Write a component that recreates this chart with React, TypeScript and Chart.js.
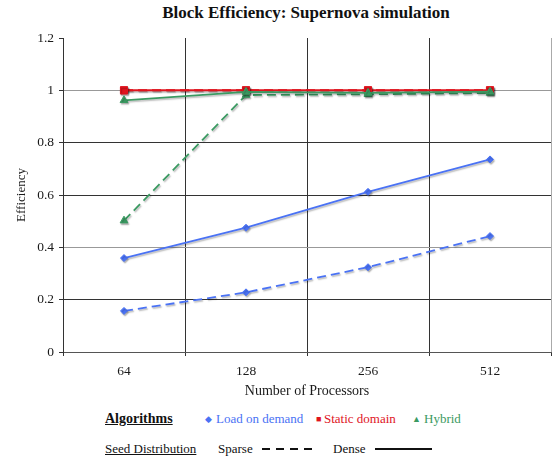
import React, { useEffect, useRef } from 'react';
import { Chart, registerables } from 'chart.js';
Chart.register(...registerables);

const categories = ['64', '128', '256', '512'];
const loadSparse = [0.157, 0.228, 0.324, 0.443];
const loadDense = [0.359, 0.475, 0.612, 0.736];
const staticSparse = [1, 1, 1, 1];
const staticDense = [1, 1, 1, 1];
const hybridSparse = [0.502, 0.982, 0.985, 0.99];
const hybridDense = [0.962, 0.994, 0.99, 0.995];
const yTicks = [0, 0.2, 0.4, 0.6, 0.8, 1, 1.2];

const BLUE = '#4a72f4';
const RED = '#e0141e';
const GREEN = '#3b9a62';
const SERIF = "'Liberation Serif', 'Times New Roman', serif";

const shadowPlugin = {
  id: 'shadow',
  beforeDatasetDraw(chart: any) {
    const c = chart.ctx;
    c.save();
    c.shadowColor = 'rgba(0,0,0,0.28)';
    c.shadowOffsetX = 1;
    c.shadowOffsetY = 1.5;
    c.shadowBlur = 1.5;
  },
  afterDatasetDraw(chart: any) {
    chart.ctx.restore();
  },
};

export default function App() {
  const ref = useRef<HTMLCanvasElement | null>(null);
  useEffect(() => {
    if (!ref.current) return;
    const mk = (label: string, data: number[], color: string, dash: number[], style: string, r: number, order: number, bw = 1.8) => ({
      label,
      data,
      borderColor: color,
      backgroundColor: color,
      borderWidth: bw,
      borderDash: dash,
      pointStyle: style,
      pointRadius: r,
      pointBorderWidth: 1,
      pointBorderColor: color,
      pointBackgroundColor: color,
      tension: 0,
      order,
    });
    const chart = new Chart(ref.current, {
      type: 'line',
      data: {
        labels: categories,
        datasets: [
          mk('Load on demand (sparse)', loadSparse, BLUE, [9, 5], 'rectRot', 3.5, 6),
          mk('Load on demand (dense)', loadDense, BLUE, [], 'rectRot', 3.5, 5),
          mk('Static domain (sparse)', staticSparse, RED, [9, 5], 'rect', 5, 4, 2),
          mk('Static domain (dense)', staticDense, RED, [], 'rect', 5, 3, 2),
          mk('Hybrid (sparse)', hybridSparse, GREEN, [9, 5], 'triangle', 4.5, 2),
          mk('Hybrid (dense)', hybridDense, GREEN, [], 'triangle', 4.5, 1),
        ] as any,
      },
      options: {
        animation: false,
        responsive: false,
        layout: { padding: { top: 38, right: 7, left: 0, bottom: 0 } },
        plugins: {
          legend: { display: false },
          title: { display: false },
          tooltip: { enabled: false },
        },
        scales: {
          x: {
            type: 'category',
            offset: true,
            afterFit: (s: any) => { s.height = 58; },
            grid: {
              offset: true,
              color: (ctx: any) => (ctx.tick ? '#333' : '#aaa'),
              tickColor: '#333',
              tickLength: 4,
              lineWidth: 1,
            },
            border: { color: '#555', width: 1 },
            ticks: { color: '#1a1a1a', font: { family: SERIF, size: 13.5 }, padding: 7 },
            title: {
              display: true,
              text: 'Number of Processors',
              color: '#1a1a1a',
              font: { family: SERIF, size: 14 },
              padding: { top: 0, bottom: 10 },
            },
          },
          y: {
            min: 0,
            max: 1.2,
            afterFit: (s: any) => { s.width = 63; },
            afterBuildTicks: (s: any) => { s.ticks = yTicks.map((v) => ({ value: v })); },
            grid: {
              color: (ctx: any) => {
                const v = ctx.tick ? ctx.tick.value : -1;
                if (Math.abs(v - 1.2) < 1e-6) return 'rgba(0,0,0,0)';
                if (Math.abs(v - 1) < 1e-6 || Math.abs(v - 0.4) < 1e-6) return '#999';
                return '#333';
              },
              tickColor: '#333',
              tickLength: 4,
              lineWidth: 1,
            },
            border: { color: '#333', width: 1 },
            ticks: {
              color: '#1a1a1a',
              font: { family: SERIF, size: 13.5 },
              padding: 5,
              callback: (v: any) => String(Number(Number(v).toFixed(1))),
            },
            title: {
              display: true,
              text: 'Efficiency',
              color: '#1a1a1a',
              font: { family: SERIF, size: 13 },
              padding: { top: 14, bottom: 0 },
            },
          },
        },
      } as any,
      plugins: [shadowPlugin],
    });
    return () => chart.destroy();
  }, []);

  const txt: React.CSSProperties = { position: 'absolute', fontFamily: SERIF, fontSize: 13, lineHeight: '16px', whiteSpace: 'nowrap' };
  return (
    <div style={{ position: 'absolute', left: 0, top: 0, width: 558, height: 461, background: '#fff', overflow: 'hidden' }}>
      <div style={{ ...txt, left: 54, width: 504, top: 3, textAlign: 'center', fontWeight: 'bold', fontSize: 17, lineHeight: '20px', color: '#111' }}>
        Block Efficiency: Supernova simulation
      </div>
      <canvas ref={ref} width={558} height={410} style={{ position: 'absolute', left: 0, top: 0, width: 558, height: 410 }} />
      <span style={{ ...txt, left: 105, top: 411, fontWeight: 'bold', fontSize: 14, textDecoration: 'underline', color: '#111' }}>Algorithms</span>
      <span style={{ ...txt, left: 205, top: 411, color: BLUE, fontSize: 9 }}>◆</span>
      <span style={{ ...txt, left: 216, top: 411, color: BLUE }}>Load on demand</span>
      <span style={{ ...txt, left: 316, top: 411, color: RED, fontSize: 9 }}>■</span>
      <span style={{ ...txt, left: 324, top: 411, color: RED }}>Static domain</span>
      <span style={{ ...txt, left: 412, top: 411, color: GREEN, fontSize: 9 }}>▲</span>
      <span style={{ ...txt, left: 424, top: 411, color: GREEN }}>Hybrid</span>
      <span style={{ ...txt, left: 105, top: 441, textDecoration: 'underline', color: '#111' }}>Seed Distribution</span>
      <span style={{ ...txt, left: 218, top: 441, color: '#111' }}>Sparse</span>
      <svg style={{ position: 'absolute', left: 262, top: 446 }} width={52} height={6}>
        <line x1={0} y1={3} x2={51} y2={3} stroke="#111" strokeWidth={2} strokeDasharray="8,6" />
      </svg>
      <span style={{ ...txt, left: 333, top: 441, color: '#111' }}>Dense</span>
      <svg style={{ position: 'absolute', left: 375, top: 446 }} width={58} height={6}>
        <line x1={0} y1={3} x2={57} y2={3} stroke="#111" strokeWidth={2} />
      </svg>
    </div>
  );
}
